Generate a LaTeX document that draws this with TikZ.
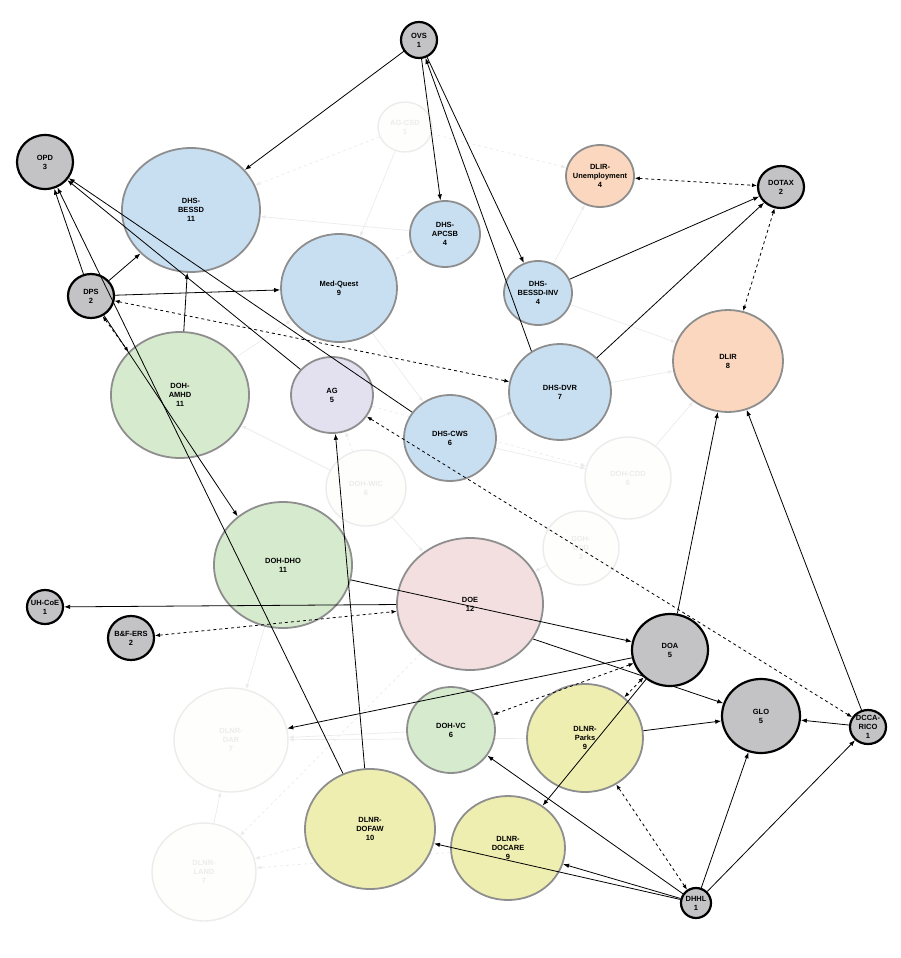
\documentclass[tikz,border=0pt]{standalone}
\usepackage{fontspec}
\setmainfont{Liberation Sans}
\usetikzlibrary{shapes.geometric,arrows.meta,backgrounds}

\definecolor{govgray}{HTML}{C3C3C5}
\definecolor{dhsblue}{HTML}{C8DFF2}
\definecolor{dohgreen}{HTML}{D6EACE}
\definecolor{dlirpeach}{HTML}{FAD7BE}
\definecolor{aglav}{HTML}{E3E1F0}
\definecolor{doepink}{HTML}{F3DFDF}
\definecolor{dlnryellow}{HTML}{EFEEB1}
\definecolor{rimgray}{HTML}{8E8E8E}
\definecolor{faderim}{HTML}{ECECEC}

\tikzset{
  dims/.style 2 args={minimum width=#1pt, minimum height=#2pt},
  agency/.style={ellipse, inner sep=-4pt, align=center,
    font=\fontsize{7.5}{9}\selectfont\bfseries, draw=rimgray, line width=1.8pt},
  govnode/.style={agency, fill=govgray, draw=black, line width=2.2pt},
  bluenode/.style={agency, fill=dhsblue},
  greennode/.style={agency, fill=dohgreen},
  peachnode/.style={agency, fill=dlirpeach},
  lavnode/.style={agency, fill=aglav},
  pinknode/.style={agency, fill=doepink},
  yellownode/.style={agency, fill=dlnryellow},
  fadenode/.style={agency, fill=white!96!dlnryellow, draw=faderim, line width=1.4pt, text=faderim},
  link/.style={-{Latex[length=6pt,width=4.5pt]}, line width=0.8pt},
  duplex/.style={{Latex[length=5pt,width=4pt]}-{Latex[length=5pt,width=4pt]}, dashed, line width=0.8pt},
  ghost/.style={-{Latex[length=5pt,width=4pt]}, draw=black!8, line width=0.7pt},
}

\begin{document}
\begin{tikzpicture}[x=1pt,y=-1pt]
\useasboundingbox (0,0) rectangle (900,958);

% Faded agencies
\node[fadenode, dims={54}{50}] (agcsd) at (405,127) {AG-CSD\\1};
\node[fadenode, dims={80}{76}] (wic) at (366,488) {DOH-WIC\\6};
\node[fadenode, dims={86}{82}] (cdd) at (628,478) {DOH-CDD\\6};
\node[fadenode, dims={76}{74}] (ddd) at (581,548) {DOH-\\DDD\\3};
\node[fadenode, dims={114}{104}] (dar) at (231,740) {DLNR-\\DAR\\7};
\node[fadenode, dims={104}{98}] (land) at (204,872) {DLNR-\\LAND\\7};

% Agencies
\node[govnode, dims={36}{36}] (ovs) at (419,40) {OVS\\1};
\node[govnode, dims={56}{54}] (opd) at (45,162) {OPD\\3};
\node[bluenode, dims={138}{124}] (bessd) at (191,210) {DHS-\\BESSD\\11};
\node[govnode, dims={46}{44}] (dps) at (91,296) {DPS\\2};
\node[bluenode, dims={116}{108}] (medquest) at (339,288) {Med-Quest\\9};
\node[bluenode, dims={70}{66}] (apcsb) at (445,234) {DHS-\\APCSB\\4};
\node[bluenode, dims={68}{64}] (bessdinv) at (538,293) {DHS-\\BESSD-INV\\4};
\node[peachnode, dims={68}{62}] (unemp) at (600,176) {DLIR-\\Unemployment\\4};
\node[govnode, dims={46}{42}] (dotax) at (781,187) {DOTAX\\2};
\node[peachnode, dims={110}{102}] (dlir) at (728,361) {DLIR\\8};
\node[greennode, dims={138}{126}] (amhd) at (180,395) {DOH-\\AMHD\\11};
\node[lavnode, dims={82}{76}] (ag) at (332,395) {AG\\5};
\node[bluenode, dims={92}{86}] (cws) at (450,438) {DHS-CWS\\6};
\node[bluenode, dims={102}{96}] (dvr) at (560,392) {DHS-DVR\\7};
\node[greennode, dims={138}{126}] (dho) at (283,565) {DOH-DHO\\11};
\node[pinknode, dims={146}{132}] (doe) at (470,604) {DOE\\12};
\node[govnode, dims={36}{34}] (uhcoe) at (45,607) {UH-CoE\\1};
\node[govnode, dims={46}{44}] (bfers) at (131,638) {B\&F-ERS\\2};
\node[govnode, dims={76}{72}] (doa) at (670,650) {DOA\\5};
\node[govnode, dims={78}{74}] (glo) at (761,716) {GLO\\5};
\node[govnode, dims={36}{34}] (dcca) at (868,727) {DCCA-\\RICO\\1};
\node[greennode, dims={88}{86}] (vc) at (451,730) {DOH-VC\\6};
\node[yellownode, dims={116}{108}] (parks) at (585,738) {DLNR-\\Parks\\9};
\node[yellownode, dims={130}{120}] (dofaw) at (370,829) {DLNR-\\DOFAW\\10};
\node[yellownode, dims={114}{104}] (docare) at (508,848) {DLNR-\\DOCARE\\9};
\node[govnode, dims={30}{30}] (dhhl) at (696,903) {DHHL\\1};

% Faint links behind the nodes
\begin{scope}[on background layer]
 \draw[ghost, dashed] (agcsd) -- (bessd);
 \draw[ghost] (agcsd) -- (medquest);
 \draw[ghost, dashed] (agcsd) -- (unemp);
 \draw[ghost] (apcsb) -- (bessd);
 \draw[ghost, dashed] (medquest) -- (apcsb);
 \draw[ghost] (bessdinv) -- (unemp);
 \draw[ghost] (bessdinv) -- (dlir);
 \draw[ghost] (dvr) -- (dlir);
 \draw[ghost] (cdd) -- (dlir);
 \draw[ghost] (cws) -- (cdd);
 \draw[ghost, dashed] (ag) -- (cdd);
 \draw[ghost] (wic) -- (amhd);
 \draw[ghost] (wic) -- (doe);
 \draw[ghost, dashed] (wic) -- (ag);
 \draw[ghost] (ddd) -- (doe);
 \draw[ghost] (dho) -- (dar);
 \draw[ghost] (land) -- (dar);
 \draw[ghost, dashed] (dofaw) -- (land);
 \draw[ghost, dashed] (docare) -- (land);
 \draw[ghost] (parks) -- (dar);
 \draw[ghost] (vc) -- (dar);
 \draw[ghost, dashed] (doe) -- (land);
 \draw[ghost] (amhd) -- (medquest);
 \draw[ghost] (cws) -- (dvr);
 \draw[ghost] (medquest) -- (cws);
 % this one runs under DOA
 \draw[link] (doe.-29) -- (glo);
\end{scope}

% Solid links
\draw[link] (ovs) -- (bessd);
\draw[link] (ovs) -- (apcsb);
\draw[link] (ovs) -- (bessdinv);
\draw[link] (dvr.125) -- (ovs);
\draw[link] (dps) -- (opd);
\draw[link] (dofaw) -- (opd); % crosses DPS
\draw[link] (ag) -- (opd);
\draw[link] (cws) -- (opd);
\draw[link] (dps) -- (bessd);
\draw[link] (dps) -- (medquest);
\draw[link] (dps) -- (dho.133);
\draw[link] (amhd) -- (bessd);
\draw[link] (bessdinv) -- (dotax);
\draw[link] (dvr) -- (dotax);
\draw[link] (doa) -- (dlir);
\draw[link] (dcca) -- (dlir);
\draw[link] (dofaw) -- (ag);
\draw[link] (doe) -- (uhcoe);
\draw[link] (dho) -- (doa);
\draw[link] (doa) -- (dar);
\draw[link] (doa) -- (docare);
\draw[link] (parks) -- (glo);
\draw[link] (dcca) -- (glo);
\draw[link] (dhhl) -- (glo);
\draw[link] (dhhl) -- (dcca);
\draw[link] (dhhl) -- (vc);
\draw[link] (dhhl) -- (docare);
\draw[link] (dhhl) -- (dofaw);

% Dashed two-way links
\draw[duplex] (dps) -- (dvr);
\draw[duplex] (dps.-60) -- (amhd.140);
\draw[duplex] (unemp) -- (dotax);
\draw[duplex] (dotax) -- (dlir);
\draw[duplex] (dcca) -- (ag);
\draw[duplex] (bfers) -- (doe);
\draw[duplex] (doa) -- (vc);
\draw[duplex] (doa) -- (parks);
\draw[duplex] (dhhl) -- (parks);

\end{tikzpicture}
\end{document}
